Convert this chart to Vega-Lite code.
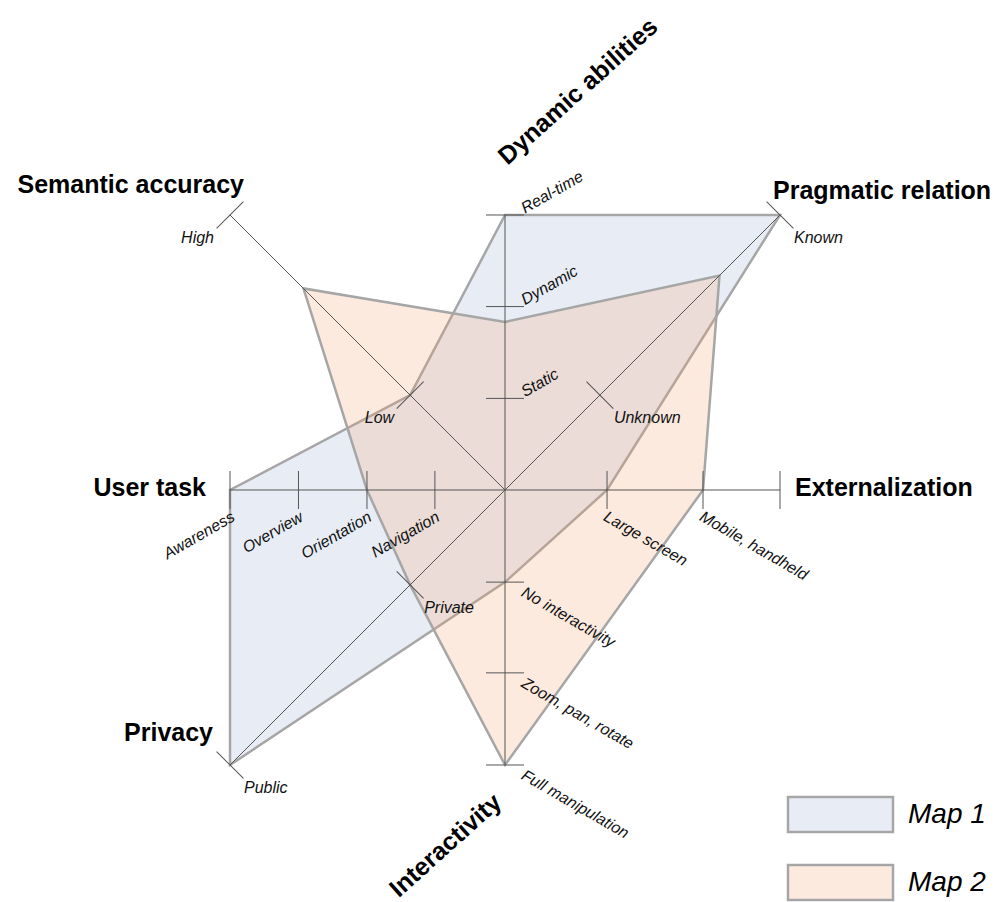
{
  "$schema": "https://vega.github.io/schema/vega-lite/v6.json",
  "width": 998,
  "height": 902,
  "autosize": {"type": "none"},
  "padding": 0,
  "background": "white",
  "config": {"view": {"stroke": null}},
  "datasets": {
    "axes": [
      {"axis": "Dynamic abilities", "ux": 0, "uy": 1},
      {"axis": "Pragmatic relation", "ux": 1, "uy": 1},
      {"axis": "Externalization", "ux": 1, "uy": 0},
      {"axis": "Interactivity", "ux": 0, "uy": -1},
      {"axis": "Privacy", "ux": -1, "uy": -1},
      {"axis": "User task", "ux": -1, "uy": 0},
      {"axis": "Semantic accuracy", "ux": -1, "uy": 1}
    ],
    "ticks": [
      {"axis": "Dynamic abilities", "label": "Static", "value": 0.333},
      {"axis": "Dynamic abilities", "label": "Dynamic", "value": 0.667},
      {"axis": "Dynamic abilities", "label": "Real-time", "value": 1.0},
      {"axis": "Pragmatic relation", "label": "Unknown", "value": 0.345},
      {"axis": "Pragmatic relation", "label": "Known", "value": 1.0},
      {"axis": "Externalization", "label": "Large screen", "value": 0.371},
      {"axis": "Externalization", "label": "Mobile, handheld", "value": 0.72},
      {"axis": "Externalization", "label": "", "value": 1.0},
      {"axis": "Interactivity", "label": "No interactivity", "value": 0.335},
      {"axis": "Interactivity", "label": "Zoom, pan, rotate", "value": 0.665},
      {"axis": "Interactivity", "label": "Full manipulation", "value": 1.0},
      {"axis": "Privacy", "label": "Private", "value": 0.345},
      {"axis": "Privacy", "label": "Public", "value": 1.0},
      {"axis": "User task", "label": "Navigation", "value": 0.255},
      {"axis": "User task", "label": "Orientation", "value": 0.502},
      {"axis": "User task", "label": "Overview", "value": 0.751},
      {"axis": "User task", "label": "Awareness", "value": 1.0},
      {"axis": "Semantic accuracy", "label": "Low", "value": 0.345},
      {"axis": "Semantic accuracy", "label": "High", "value": 1.0}
    ],
    "maps": [
      {"map": "Map 1", "axis": "Dynamic abilities", "value": 1.0},
      {"map": "Map 1", "axis": "Pragmatic relation", "value": 1.0},
      {"map": "Map 1", "axis": "Externalization", "value": 0.371},
      {"map": "Map 1", "axis": "Interactivity", "value": 0.335},
      {"map": "Map 1", "axis": "Privacy", "value": 1.0},
      {"map": "Map 1", "axis": "User task", "value": 1.0},
      {"map": "Map 1", "axis": "Semantic accuracy", "value": 0.345},
      {"map": "Map 2", "axis": "Dynamic abilities", "value": 0.611},
      {"map": "Map 2", "axis": "Pragmatic relation", "value": 0.78},
      {"map": "Map 2", "axis": "Externalization", "value": 0.72},
      {"map": "Map 2", "axis": "Interactivity", "value": 1.0},
      {"map": "Map 2", "axis": "Privacy", "value": 0.345},
      {"map": "Map 2", "axis": "User task", "value": 0.502},
      {"map": "Map 2", "axis": "Semantic accuracy", "value": 0.733}
    ]
  },
  "encoding": {
    "x": {"field": "x", "type": "quantitative", "scale": {"domain": [-1.8364, 1.7927], "nice": false, "zero": false}, "axis": null},
    "y": {"field": "y", "type": "quantitative", "scale": {"domain": [-1.4982, 1.7818], "nice": false, "zero": false}, "axis": null}
  },
  "layer": [
    {
      "data": {"name": "maps"},
      "transform": [
        {"lookup": "axis", "from": {"data": {"name": "axes"}, "key": "axis", "fields": ["ux", "uy"]}},
        {"calculate": "datum.value * datum.ux", "as": "x"},
        {"calculate": "datum.value * datum.uy", "as": "y"}
      ],
      "mark": {"type": "line", "interpolate": "linear-closed", "stroke": "#a6a6a6", "strokeWidth": 2.5, "strokeJoin": "miter"},
      "encoding": {
        "order": {"value": null},
        "fill": {
          "field": "map", "type": "nominal",
          "scale": {"domain": ["Map 1", "Map 2"], "range": ["rgba(150,175,210,0.22)", "rgba(245,160,110,0.22)"]},
          "legend": {
            "orient": "none", "legendX": 786.5, "legendY": 795.5, "title": null, "padding": 0,
            "symbolType": "M-1,-1H5V1H-1Z", "symbolSize": 1225,
            "symbolStrokeColor": "#a6a6a6", "symbolStrokeWidth": 2.5,
            "labelFont": "Liberation Sans", "labelFontSize": 28, "labelFontStyle": "italic",
            "labelColor": "#000000", "labelOffset": 83.5, "rowPadding": 22
          }
        }
      }
    },
    {
      "data": {"name": "axes"},
      "transform": [
        {"calculate": "datum.ux", "as": "x"},
        {"calculate": "datum.uy", "as": "y"}
      ],
      "mark": {"type": "rule", "color": "#555555", "strokeWidth": 1},
      "encoding": {
        "x2": {"datum": 0},
        "y2": {"datum": 0}
      }
    },
    {
      "data": {"name": "ticks"},
      "transform": [
        {"lookup": "axis", "from": {"data": {"name": "axes"}, "key": "axis", "fields": ["ux", "uy"]}},
        {"calculate": "datum.value * datum.ux", "as": "x"},
        {"calculate": "datum.value * datum.uy", "as": "y"},
        {"calculate": "90 - atan2(datum.uy, datum.ux) * 180 / PI", "as": "tickAngle"}
      ],
      "mark": {"type": "point", "shape": "M-1,0H1", "size": 1444, "filled": false, "stroke": "#555555", "strokeWidth": 1, "opacity": 1},
      "encoding": {
        "angle": {"field": "tickAngle", "type": "quantitative", "scale": null}
      }
    },
    {
      "data": {"name": "ticks"},
      "transform": [
        {"filter": "datum.axis == 'Dynamic abilities'"},
        {"lookup": "axis", "from": {"data": {"name": "axes"}, "key": "axis", "fields": ["ux", "uy"]}},
        {"calculate": "datum.value * datum.ux", "as": "x"},
        {"calculate": "datum.value * datum.uy", "as": "y"}
      ],
      "mark": {"type": "text", "font": "Liberation Sans", "fontSize": 16, "fontStyle": "italic", "color": "#111111", "angle": -30, "align": "left", "baseline": "alphabetic", "dx": 18, "dy": 9},
      "encoding": {"text": {"field": "label"}}
    },
    {
      "data": {"name": "ticks"},
      "transform": [
        {"filter": "datum.axis == 'User task'"},
        {"lookup": "axis", "from": {"data": {"name": "axes"}, "key": "axis", "fields": ["ux", "uy"]}},
        {"calculate": "datum.value * datum.ux", "as": "x"},
        {"calculate": "datum.value * datum.uy", "as": "y"}
      ],
      "mark": {"type": "text", "font": "Liberation Sans", "fontSize": 16, "fontStyle": "italic", "color": "#111111", "angle": -30, "align": "right", "baseline": "alphabetic", "dx": -10, "dy": 29},
      "encoding": {"text": {"field": "label"}}
    },
    {
      "data": {"name": "ticks"},
      "transform": [
        {"filter": "datum.axis == 'Externalization'"},
        {"lookup": "axis", "from": {"data": {"name": "axes"}, "key": "axis", "fields": ["ux", "uy"]}},
        {"calculate": "datum.value * datum.ux", "as": "x"},
        {"calculate": "datum.value * datum.uy", "as": "y"}
      ],
      "mark": {"type": "text", "font": "Liberation Sans", "fontSize": 16, "fontStyle": "italic", "color": "#111111", "angle": 30, "align": "left", "baseline": "alphabetic", "dx": 11, "dy": 28},
      "encoding": {"text": {"field": "label"}}
    },
    {
      "data": {"name": "ticks"},
      "transform": [
        {"filter": "datum.axis == 'Interactivity'"},
        {"lookup": "axis", "from": {"data": {"name": "axes"}, "key": "axis", "fields": ["ux", "uy"]}},
        {"calculate": "datum.value * datum.ux", "as": "x"},
        {"calculate": "datum.value * datum.uy", "as": "y"}
      ],
      "mark": {"type": "text", "font": "Liberation Sans", "fontSize": 16, "fontStyle": "italic", "color": "#111111", "angle": 30, "align": "left", "baseline": "alphabetic", "dx": 20, "dy": 4},
      "encoding": {"text": {"field": "label"}}
    },
    {
      "data": {"name": "ticks"},
      "transform": [
        {"filter": "datum.axis == 'Semantic accuracy'"},
        {"lookup": "axis", "from": {"data": {"name": "axes"}, "key": "axis", "fields": ["ux", "uy"]}},
        {"calculate": "datum.value * datum.ux", "as": "x"},
        {"calculate": "datum.value * datum.uy", "as": "y"}
      ],
      "mark": {"type": "text", "font": "Liberation Sans", "fontSize": 16, "fontStyle": "italic", "color": "#111111", "align": "right", "baseline": "alphabetic", "dx": -16, "dy": 28},
      "encoding": {"text": {"field": "label"}}
    },
    {
      "data": {"name": "ticks"},
      "transform": [
        {"filter": "datum.axis == 'Pragmatic relation' || datum.axis == 'Privacy'"},
        {"lookup": "axis", "from": {"data": {"name": "axes"}, "key": "axis", "fields": ["ux", "uy"]}},
        {"calculate": "datum.value * datum.ux", "as": "x"},
        {"calculate": "datum.value * datum.uy", "as": "y"}
      ],
      "mark": {"type": "text", "font": "Liberation Sans", "fontSize": 16, "fontStyle": "italic", "color": "#111111", "align": "left", "baseline": "alphabetic", "dx": 14, "dy": 28},
      "encoding": {"text": {"field": "label"}}
    },
    {
      "data": {"name": "axes"},
      "transform": [
        {"filter": "datum.axis == 'Dynamic abilities'"},
        {"calculate": "datum.ux", "as": "x"},
        {"calculate": "datum.uy", "as": "y"}
      ],
      "mark": {"type": "text", "font": "Liberation Sans", "fontSize": 25, "fontWeight": "bold", "color": "#000000", "angle": -42, "align": "center", "baseline": "middle", "dx": 137, "dy": -43},
      "encoding": {"text": {"field": "axis"}}
    },
    {
      "data": {"name": "axes"},
      "transform": [
        {"filter": "datum.axis == 'Interactivity'"},
        {"calculate": "datum.ux", "as": "x"},
        {"calculate": "datum.uy", "as": "y"}
      ],
      "mark": {"type": "text", "font": "Liberation Sans", "fontSize": 25, "fontWeight": "bold", "color": "#000000", "angle": -42, "align": "center", "baseline": "middle", "dx": -98, "dy": 20},
      "encoding": {"text": {"field": "axis"}}
    },
    {
      "data": {"name": "axes"},
      "transform": [
        {"filter": "datum.axis == 'Pragmatic relation'"},
        {"calculate": "datum.ux", "as": "x"},
        {"calculate": "datum.uy", "as": "y"}
      ],
      "mark": {"type": "text", "font": "Liberation Sans", "fontSize": 25, "fontWeight": "bold", "color": "#000000", "align": "left", "baseline": "alphabetic", "dx": -7, "dy": -16},
      "encoding": {"text": {"field": "axis"}}
    },
    {
      "data": {"name": "axes"},
      "transform": [
        {"filter": "datum.axis == 'Externalization'"},
        {"calculate": "datum.ux", "as": "x"},
        {"calculate": "datum.uy", "as": "y"}
      ],
      "mark": {"type": "text", "font": "Liberation Sans", "fontSize": 25, "fontWeight": "bold", "color": "#000000", "align": "left", "baseline": "alphabetic", "dx": 15, "dy": 6},
      "encoding": {"text": {"field": "axis"}}
    },
    {
      "data": {"name": "axes"},
      "transform": [
        {"filter": "datum.axis == 'Privacy'"},
        {"calculate": "datum.ux", "as": "x"},
        {"calculate": "datum.uy", "as": "y"}
      ],
      "mark": {"type": "text", "font": "Liberation Sans", "fontSize": 25, "fontWeight": "bold", "color": "#000000", "align": "right", "baseline": "alphabetic", "dx": -17, "dy": -24},
      "encoding": {"text": {"field": "axis"}}
    },
    {
      "data": {"name": "axes"},
      "transform": [
        {"filter": "datum.axis == 'User task'"},
        {"calculate": "datum.ux", "as": "x"},
        {"calculate": "datum.uy", "as": "y"}
      ],
      "mark": {"type": "text", "font": "Liberation Sans", "fontSize": 25, "fontWeight": "bold", "color": "#000000", "align": "right", "baseline": "alphabetic", "dx": -24, "dy": 6},
      "encoding": {"text": {"field": "axis"}}
    },
    {
      "data": {"name": "axes"},
      "transform": [
        {"filter": "datum.axis == 'Semantic accuracy'"},
        {"calculate": "datum.ux", "as": "x"},
        {"calculate": "datum.uy", "as": "y"}
      ],
      "mark": {"type": "text", "font": "Liberation Sans", "fontSize": 25, "fontWeight": "bold", "color": "#000000", "align": "right", "baseline": "alphabetic", "dx": 14, "dy": -22},
      "encoding": {"text": {"field": "axis"}}
    }
  ]
}
